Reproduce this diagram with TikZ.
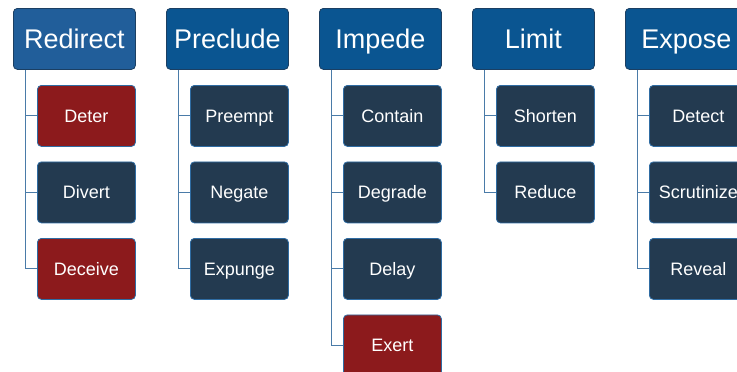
\documentclass[tikz,border=0pt]{standalone}
\usepackage{fontspec}
\setmainfont{Liberation Sans}
\definecolor{topA}{HTML}{215E9A}
\definecolor{topB}{HTML}{0A5591}
\definecolor{topline}{HTML}{1B3F63}
\definecolor{dark}{HTML}{233A50}
\definecolor{redbox}{HTML}{8C1A1C}
\definecolor{boxline}{HTML}{2F6CA3}
\definecolor{conn}{HTML}{4A7BA8}
\begin{document}
\begin{tikzpicture}[x=1pt,y=-1pt,
  topbox/.style={draw=topline,line width=0.8pt,rounded corners=4pt,minimum width=122pt,minimum height=61pt,text=white,font=\fontsize{27}{30}\selectfont,anchor=north west,inner sep=0pt,text height=19.5pt,text depth=0pt},
  subbox/.style={draw=boxline,line width=0.8pt,rounded corners=4pt,minimum width=98pt,minimum height=61pt,text=white,font=\fontsize{18}{21}\selectfont,anchor=north west,inner sep=0pt,fill=dark,text height=13pt,text depth=0pt},
  redsub/.style={subbox,fill=redbox},
  link/.style={draw=conn,line width=0.9pt}]
\useasboundingbox (0,0) rectangle (737,372);
% top nodes
\node[topbox,fill=topA] (t1) at (13,8) {Redirect};
\node[topbox,fill=topB] (t2) at (166,8) {Preclude};
\node[topbox,fill=topB] (t3) at (319,8) {Impede};
\node[topbox,fill=topB] (t4) at (472,8) {Limit};
\node[topbox,fill=topB] (t5) at (625,8) {Expose};
% children
\node[redsub] (a1) at (37,85) {Deter};
\node[subbox] (a2) at (37,161.5) {Divert};
\node[redsub] (a3) at (37,238) {Deceive};
\node[subbox] (b1) at (190,85) {Preempt};
\node[subbox] (b2) at (190,161.5) {Negate};
\node[subbox] (b3) at (190,238) {Expunge};
\node[subbox] (c1) at (343,85) {Contain};
\node[subbox] (c2) at (343,161.5) {Degrade};
\node[subbox] (c3) at (343,238) {Delay};
\node[redsub] (c4) at (343,314.5) {Exert};
\node[subbox] (d1) at (496,85) {Shorten};
\node[subbox] (d2) at (496,161.5) {Reduce};
\node[subbox] (e1) at (649,85) {Detect};
\node[subbox] (e2) at (649,161.5) {Scrutinize};
\node[subbox] (e3) at (649,238) {Reveal};
% connectors
\foreach \t/\list in {t1/{a1,a2,a3},t2/{b1,b2,b3},t3/{c1,c2,c3,c4},t4/{d1,d2},t5/{e1,e2,e3}}{
  \foreach \c in \list {
    \draw[link] ([xshift=12pt]\t.south west) |- (\c.west);
  }
}
\end{tikzpicture}
\end{document}
